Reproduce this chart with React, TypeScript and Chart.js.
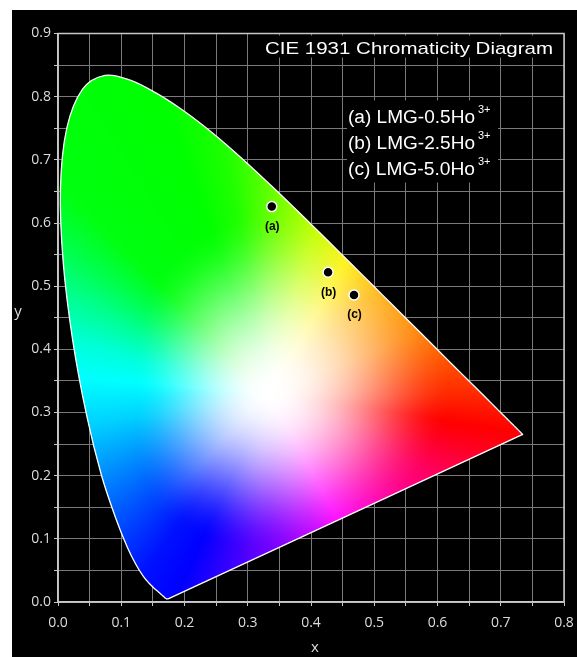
import React, { useEffect, useRef } from 'react';
import { Chart, registerables } from 'chart.js';

Chart.register(...registerables);

// CIE 1931 2° spectral locus, 380–700 nm every 5 nm
const locusX = [
  0.1741, 0.1740, 0.1738, 0.1736, 0.1733, 0.1730, 0.1726, 0.1721, 0.1714, 0.1703,
  0.1689, 0.1669, 0.1644, 0.1611, 0.1566, 0.1510, 0.1440, 0.1355, 0.1241, 0.1096,
  0.0913, 0.0687, 0.0454, 0.0235, 0.0082, 0.0039, 0.0139, 0.0389, 0.0743, 0.1142,
  0.1547, 0.1929, 0.2296, 0.2658, 0.3016, 0.3373, 0.3731, 0.4087, 0.4441, 0.4788,
  0.5125, 0.5448, 0.5752, 0.6029, 0.6270, 0.6482, 0.6658, 0.6801, 0.6915, 0.7006,
  0.7079, 0.7140, 0.7190, 0.7230, 0.7260, 0.7283, 0.7300, 0.7311, 0.7320, 0.7327,
  0.7334, 0.7340, 0.7344, 0.7346, 0.7347,
];
const locusY = [
  0.0050, 0.0050, 0.0049, 0.0049, 0.0048, 0.0048, 0.0048, 0.0048, 0.0051, 0.0058,
  0.0069, 0.0086, 0.0109, 0.0138, 0.0177, 0.0227, 0.0297, 0.0399, 0.0578, 0.0868,
  0.1327, 0.2007, 0.2950, 0.4127, 0.5384, 0.6548, 0.7502, 0.8120, 0.8338, 0.8262,
  0.8059, 0.7816, 0.7543, 0.7243, 0.6923, 0.6589, 0.6245, 0.5896, 0.5547, 0.5202,
  0.4866, 0.4544, 0.4242, 0.3965, 0.3725, 0.3514, 0.3340, 0.3197, 0.3083, 0.2993,
  0.2920, 0.2859, 0.2809, 0.2770, 0.2740, 0.2717, 0.2700, 0.2689, 0.2680, 0.2673,
  0.2666, 0.2660, 0.2656, 0.2654, 0.2653,
];
const whitePoint = [0.335, 0.33];

// hue wheel around the white point (angle in degrees -> colour), as seen in the picture
const hueAngles = [0, 22, 45, 60, 75, 88, 100, 110, 135, 145, 155, 165, 175, 190, 205, 220, 235, 245, 255, 265, 275, 287, 298, 315, 334, 345, 351, 360];
const hueColors = [
  '#ff2a00', '#ff8000', '#ffb400', '#fff000', '#c0ff00', '#70ff00', '#20ff00', '#00ff00',
  '#00ff10', '#00ff50', '#00ff98', '#00ffd8', '#00ffff', '#00d0ff', '#0090ff', '#0050ff',
  '#0010ff', '#0000ff', '#3000ff', '#6000ff', '#8800ff', '#c000ff', '#ff00ff', '#ff00b0',
  '#ff0060', '#ff0020', '#ff0000', '#ff2a00',
];
// radius (chromaticity units) at which each direction becomes fully saturated
const satAngles = [0, 45, 90, 135, 180, 225, 270, 315, 360];
const satRadius = [0.29, 0.3, 0.3, 0.26, 0.21, 0.26, 0.25, 0.27, 0.29];

// Sample chromaticity coordinates
const sampleLabels = ['(a)', '(b)', '(c)'];
const sampleX = [0.338, 0.427, 0.468];
const sampleY = [0.626, 0.522, 0.486];

const legendNames = ['(a) LMG-0.5Ho', '(b) LMG-2.5Ho', '(c) LMG-5.0Ho'];
const legendSup = '3+';
const titleText = 'CIE 1931 Chromaticity Diagram';
const xAxisTitle = 'x';
const yAxisTitle = 'y';

const xMin = 0, xMax = 0.8, yMin = 0, yMax = 0.9, gridStep = 0.05, labelStep = 0.1;

const TICK_COLOR = '#dcdcdc';
const GRID_COLOR = '#7a7a7a';

function hexToRgb(h: string): [number, number, number] {
  const n = parseInt(h.slice(1), 16);
  return [(n >> 16) & 255, (n >> 8) & 255, n & 255];
}

function interp(angles: number[], values: number[], a: number): number {
  for (let i = 0; i < angles.length - 1; i++) {
    if (a >= angles[i] && a <= angles[i + 1]) {
      const t = (a - angles[i]) / (angles[i + 1] - angles[i]);
      return values[i] + (values[i + 1] - values[i]) * t;
    }
  }
  return values[values.length - 1];
}

function fittedText(ctx: CanvasRenderingContext2D, text: string, x: number, y: number, width: number) {
  const w = ctx.measureText(text).width;
  ctx.save();
  ctx.translate(x, y);
  ctx.scale(width / w, 1);
  ctx.fillText(text, 0, 0);
  ctx.restore();
}

const ciePlugin = {
  id: 'ciePlugin',
  beforeDraw(chart: any) {
    const { ctx, width, height } = chart;
    ctx.save();
    ctx.fillStyle = '#000';
    ctx.fillRect(0, 0, width, height);
    ctx.restore();
  },
  beforeDatasetsDraw(chart: any) {
    const { ctx, chartArea: a, scales } = chart;
    const xs = scales.x, ys = scales.y;
    ctx.save();
    ctx.strokeStyle = '#c8c8c8';
    ctx.lineWidth = 1.5;
    ctx.strokeRect(a.left, a.top, a.right - a.left, a.bottom - a.top);
    ctx.restore();

    // lookup tables per degree step
    const NB = 1440;
    const hueR = new Float32Array(NB), hueG = new Float32Array(NB), hueB = new Float32Array(NB), rad = new Float32Array(NB);
    const rgbs = hueColors.map(hexToRgb);
    const rs = rgbs.map((c) => c[0]), gs = rgbs.map((c) => c[1]), bs = rgbs.map((c) => c[2]);
    for (let b = 0; b < NB; b++) {
      const ang = (b / NB) * 360;
      hueR[b] = interp(hueAngles, rs, ang);
      hueG[b] = interp(hueAngles, gs, ang);
      hueB[b] = interp(hueAngles, bs, ang);
      rad[b] = interp(satAngles, satRadius, ang);
    }

    const [wx, wy] = whitePoint;
    const M = 10;
    const left = Math.floor(a.left) - M, top = Math.floor(a.top) - M;
    const w = Math.ceil(a.right) - Math.floor(a.left) + 2 * M;
    const h = Math.ceil(a.bottom) - Math.floor(a.top) + 2 * M;
    const off = document.createElement('canvas');
    off.width = w; off.height = h;
    const octx = off.getContext('2d')!;
    const img = octx.createImageData(w, h);
    const d = img.data;
    for (let j = 0; j < h; j++) {
      const cy = ys.getValueForPixel(top + j + 0.5);
      for (let i = 0; i < w; i++) {
        const cx = xs.getValueForPixel(left + i + 0.5);
        const k = (j * w + i) * 4;
        const dx = cx - wx, dy = cy - wy;
        const dist = Math.hypot(dx, dy);
        let deg = (Math.atan2(dy, dx) * 180) / Math.PI;
        if (deg < 0) deg += 360;
        let bin = Math.floor((deg / 360) * NB);
        if (bin >= NB) bin = NB - 1;
        const t = Math.min(1, dist / rad[bin]);
        const q = 1 - t * t;
        const wh = q * q;
        d[k] = 255 * wh + (1 - wh) * hueR[bin];
        d[k + 1] = 255 * wh + (1 - wh) * hueG[bin];
        d[k + 2] = 255 * wh + (1 - wh) * hueB[bin];
        d[k + 3] = 255;
      }
    }
    octx.putImageData(img, 0, 0);
    const soft = document.createElement('canvas');
    soft.width = w; soft.height = h;
    const sctx = soft.getContext('2d')!;
    sctx.filter = 'blur(1.5px)';
    sctx.drawImage(off, 0, 0);

    ctx.save();
    ctx.beginPath();
    let done = false;
    try {
      const meta = chart.getDatasetMeta(1);
      const line = meta.dataset;
      line.updateControlPoints(chart.chartArea, meta.indexAxis || 'x');
      line.path(ctx);
      done = true;
    } catch (e) {
      done = false;
    }
    if (!done) {
      ctx.beginPath();
      for (let k = 0; k < locusX.length; k++) {
        const px = xs.getPixelForValue(locusX[k]);
        const py = ys.getPixelForValue(locusY[k]);
        if (k === 0) ctx.moveTo(px, py); else ctx.lineTo(px, py);
      }
    }
    ctx.closePath();
    ctx.clip();
    ctx.drawImage(soft, left, top);
    ctx.restore();

    // title with black box
    ctx.save();
    ctx.fillStyle = '#000';
    ctx.fillRect(a.left + 200, a.top + 2, 300, 22);
    ctx.fillStyle = '#ffffff';
    ctx.font = '17px "Liberation Sans", Arial, sans-serif';
    ctx.textBaseline = 'alphabetic';
    ctx.textAlign = 'left';
    fittedText(ctx, titleText, a.left + 207, a.top + 20.5, 288);

    // legend box
    ctx.fillStyle = '#000';
    ctx.fillRect(a.left + 289, a.top + 67, 151, 82);
    ctx.fillStyle = '#ffffff';
    legendNames.forEach((name, i) => {
      const by = a.top + 89 + i * 26.2;
      ctx.font = '18px "Liberation Sans", Arial, sans-serif';
      fittedText(ctx, name, a.left + 290, by, 127);
      ctx.font = '11px "Liberation Sans", Arial, sans-serif';
      ctx.fillText(legendSup, a.left + 420, by - 10);
    });
    ctx.restore();
  },
  afterDatasetsDraw(chart: any) {
    const { ctx, scales } = chart;
    ctx.save();
    ctx.fillStyle = '#000';
    ctx.font = 'bold 12px "Liberation Sans", Arial, sans-serif';
    ctx.textAlign = 'center';
    ctx.textBaseline = 'middle';
    sampleLabels.forEach((lab, i) => {
      const px = scales.x.getPixelForValue(sampleX[i]);
      const py = scales.y.getPixelForValue(sampleY[i]);
      ctx.fillText(lab, px + 0.5, py + 20);
    });
    ctx.restore();
  },
  afterDraw(chart: any) {
    const { ctx, chartArea: a } = chart;
    ctx.save();
    ctx.fillStyle = TICK_COLOR;
    ctx.font = '15px "Open Sans", "Noto Sans", sans-serif';
    ctx.textAlign = 'center';
    ctx.textBaseline = 'middle';
    ctx.fillText(xAxisTitle, (a.left + a.right) / 2 + 4, a.bottom + 46);
    ctx.fillText(yAxisTitle, 6, (a.top + a.bottom) / 2 - 6);
    ctx.restore();
  },
};

export default function App() {
  const ref = useRef<HTMLCanvasElement>(null);
  useEffect(() => {
    if (!ref.current) return;
    const chart = new Chart(ref.current, {
      type: 'scatter',
      data: {
        datasets: [
          {
            label: 'samples',
            data: sampleX.map((x, i) => ({ x, y: sampleY[i] })),
            showLine: false,
            pointRadius: 5,
            pointBackgroundColor: '#000',
            pointBorderColor: '#ffffff',
            pointBorderWidth: 1.5,
            order: 0,
          },
          {
            label: 'locus',
            data: [...locusX.map((x, i) => ({ x, y: locusY[i] })), { x: locusX[0], y: locusY[0] }],
            showLine: true,
            pointRadius: 0,
            borderColor: '#ffffff',
            borderWidth: 1.3,
            fill: false,
            tension: 0.35,
            order: 1,
          },
        ],
      },
      options: {
        responsive: false,
        animation: false,
        events: [],
        layout: { padding: { top: 23.5, right: 13, left: 0, bottom: 0 } },
        plugins: {
          legend: { display: false },
          tooltip: { enabled: false },
          title: { display: false },
        },
        scales: {
          x: {
            type: 'linear',
            min: xMin,
            max: xMax,
            afterFit: (s: any) => { s.height = 55; s.paddingLeft = 0; s.paddingRight = 0; },
            afterBuildTicks: (s: any) => {
              const t = [];
              for (let v = xMin; v <= xMax + 1e-9; v += gridStep) t.push({ value: +v.toFixed(2) });
              s.ticks = t;
            },
            ticks: {
              autoSkip: false,
              maxRotation: 0,
              color: TICK_COLOR,
              font: { family: '"Open Sans", "Noto Sans", sans-serif', size: 14 },
              padding: 9,
              callback: (v: any) => (Math.abs(v / labelStep - Math.round(v / labelStep)) < 1e-6 ? Number(v).toFixed(1) : ''),
            },
            grid: { color: GRID_COLOR, lineWidth: 1, tickLength: 4, tickColor: '#c8c8c8' },
            border: { color: '#c8c8c8', width: 1.5 },
          },
          y: {
            type: 'linear',
            min: yMin,
            max: yMax,
            afterFit: (s: any) => { s.width = 46; },
            afterBuildTicks: (s: any) => {
              const t = [];
              for (let v = yMin; v <= yMax + 1e-9; v += gridStep) t.push({ value: +v.toFixed(2) });
              s.ticks = t;
            },
            ticks: {
              autoSkip: false,
              color: TICK_COLOR,
              font: { family: '"Open Sans", "Noto Sans", sans-serif', size: 14 },
              padding: 3,
              callback: (v: any) => (Math.abs(v / labelStep - Math.round(v / labelStep)) < 1e-6 ? Number(v).toFixed(1) : ''),
            },
            grid: { color: GRID_COLOR, lineWidth: 1, tickLength: 4, tickColor: '#c8c8c8' },
            border: { color: '#c8c8c8', width: 1.5 },
          },
        },
      },
      plugins: [ciePlugin],
    } as any);
    return () => chart.destroy();
  }, []);

  return (
    <div style={{ position: 'absolute', left: 12, top: 10, width: 565, height: 647, background: '#000' }}>
      <canvas ref={ref} width={565} height={647} style={{ display: 'block', width: 565, height: 647 }} />
    </div>
  );
}
